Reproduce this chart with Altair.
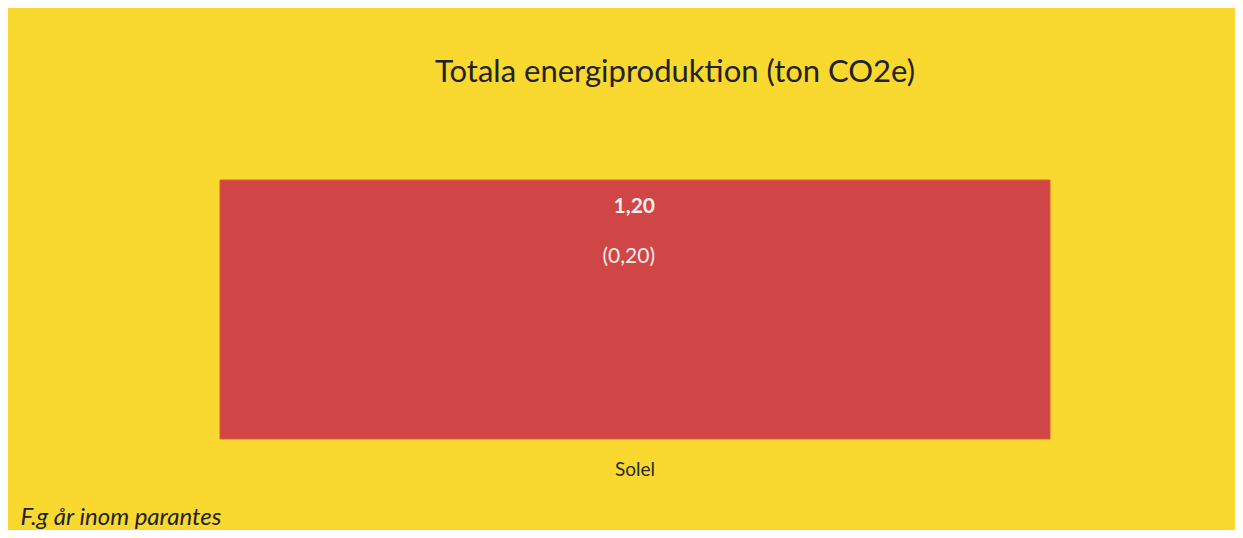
import altair as alt
import pandas as pd

# Data
categories = ["Solel"]
values = [1.20]          # current year (ton CO2e)
prev_values = [0.20]     # previous year, shown in parentheses

df = pd.DataFrame({"kategori": categories, "varde": values, "fg": prev_values})
df["label"] = df["varde"].map(lambda v: f"{v:.2f}".replace(".", ","))
df["fg_label"] = df["fg"].map(lambda v: "(" + f"{v:.2f}".replace(".", ",") + ")")

FONT = "Lato"
BG = "#F9D82F"
RED = "#D04545"

x_enc = alt.X(
    "kategori:N",
    scale=alt.Scale(paddingInner=0, paddingOuter=0),
    axis=alt.Axis(
        title="F.g år inom parantes",
        titleFont=FONT,
        titleFontSize=24,
        titleFontStyle="italic",
        titleFontWeight="normal",
        titleColor="#222222",
        titleAlign="left",
        titleAnchor="start",
        titleBaseline="alphabetic",
        titleX=-200,
        titleY=85,
        labelFont=FONT,
        labelFontSize=19,
        labelColor="#2a2a2a",
        labelAngle=0,
        labelPadding=21,
        ticks=False,
        domain=False,
        grid=False,
    ),
)
y_enc = alt.Y("varde:Q", scale=alt.Scale(domain=[0, 1.2], nice=False), axis=None)

bars = alt.Chart(df).mark_bar(color=RED, stroke="#E0602E", strokeWidth=1).encode(x=x_enc, y=y_enc)

t_val = alt.Chart(df).mark_text(
    align="right", baseline="middle", dx=20, dy=27,
    font=FONT, fontSize=21, fontWeight="bold", color="#FBEFEA",
).encode(x=x_enc, y=y_enc, text="label:N")

t_prev = alt.Chart(df).mark_text(
    align="right", baseline="middle", dx=20, dy=77,
    font=FONT, fontSize=21, fontWeight="normal", color="#FBEFEA",
).encode(x=x_enc, y=y_enc, text="fg_label:N")

chart = (
    alt.layer(bars, t_val, t_prev)
    .properties(
        width=830,
        height=259,
        title=alt.TitleParams(
            "Totala energiproduktion (ton CO2e)",
            font=FONT,
            fontSize=31,
            fontWeight="normal",
            color="#222222",
            anchor="middle",
            baseline="alphabetic",
            dx=40,
            offset=67,
        ),
        autosize=alt.AutoSizeParams(type="none"),
        padding={"left": 212, "top": 172, "right": 185, "bottom": 91},
        background=BG,
    )
    .configure_view(stroke=None)
)

chart.save("out.html", embed_options={"renderer": "svg", "actions": False})
